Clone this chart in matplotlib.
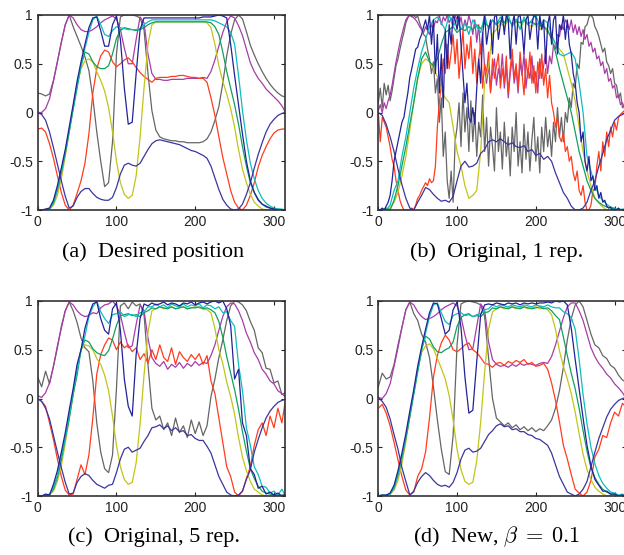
import numpy as np
import matplotlib
matplotlib.use("Agg")
import matplotlib.pyplot as plt

plt.rcParams['font.family'] = 'Liberation Sans'
plt.rcParams['mathtext.fontset'] = 'cm'
plt.rcParams['axes.unicode_minus'] = False

# sample positions (time steps) and values, in hundredths
t = list(range(0, 315, 5)) + [314]
t_fine = [i * 2.5 for i in range(126)] + [314]   # for the noisiest traces of (b)

#%% (a) desired position
grey_a = [20, 19, 17, 19, 33, 52, 72, 90,
          100, 88, 78, 68, 57, 43, 15, -20,
          -50, -76, -72, -30, 60, 98, 100, 100,
          100, 99, 97, 85, 40, 2, -18, -25,
          -27, -28, -29, -29, -30, -30, -31, -31,
          -31, -31, -30, -27, -20, -8, 6, 30,
          58, 80, 95, 100, 96, 83, 69, 59,
          50, 42, 35, 29, 24, 20, 17, 16]
magenta_a = [0, 0, 4, 14, 32, 52, 72, 90,
             100, 97, 90, 85, 83, 83, 85, 88,
             92, 95, 97, 99, 96, 85, 66, 50,
             50, 75, 98, 92, 60, 40, 34, 34,
             33, 33, 34, 34, 34, 34, 35, 35,
             35, 35, 36, 35, 42, 54, 68, 82,
             93, 99, 97, 89, 79, 65, 51, 42,
             35, 30, 24, 20, 16, 12, 7, 1]
navy1_a = [0, -2, -8, -20, -36, -53, -70, -86,
           -98, -96, -87, -81, -78, -78, -83, -87,
           -89, -90, -90, -87, -77, -63, -54, -52,
           -54, -55, -52, -45, -38, -32, -29, -28,
           -29, -30, -31, -32, -33, -35, -37, -39,
           -40, -42, -44, -47, -55, -67, -79, -89,
           -95, -99, -100, -99, -94, -84, -72, -57,
           -43, -31, -20, -12, -7, -3, -1, 0]
navy2_a = [-100, -100, -99, -98, -90, -75, -57, -38,
           -15, 8, 32, 52, 70, 87, 97, 98,
           84, 68, 68, 90, 99, 75, 25, -12,
           -10, 40, 85, 97, 97, 97, 97, 97,
           97, 97, 97, 97, 97, 97, 97, 97,
           97, 97, 98, 98, 98, 99, 100, 99,
           97, 70, 38, 8, -22, -50, -70, -82,
           -90, -94, -96, -98, -99, -100, -100, -100]
cyan_a = [-100, -100, -100, -99, -92, -78, -60, -40,
          -18, 5, 28, 48, 66, 82, 95, 99,
          90, 80, 78, 84, 88, 87, 86, 85,
          85, 85, 86, 90, 93, 95, 95, 95,
          95, 95, 95, 95, 95, 95, 95, 95,
          95, 95, 95, 95, 95, 94, 92, 90,
          88, 82, 70, 38, 2, -28, -52, -68,
          -80, -88, -93, -96, -98, -99, -99, -100]
green_a = [-100, -100, -100, -99, -93, -80, -62, -42,
           -20, 3, 25, 48, 62, 60, 52, 47,
           45, 45, 48, 60, 76, 84, 87, 86,
           85, 84, 85, 87, 90, 92, 93, 93,
           93, 93, 93, 93, 93, 93, 93, 93,
           93, 93, 93, 93, 92, 88, 80, 62,
           42, 25, 8, -12, -35, -55, -72, -82,
           -89, -94, -97, -98, -99, -99, -100, -100]
yellow_a = [-100, -100, -100, -99, -95, -85, -68, -45,
            -20, 5, 28, 45, 53, 55, 52, 42,
            33, 22, 5, -20, -50, -72, -84, -88,
            -85, -65, -25, 25, 70, 90, 93, 93,
            93, 93, 93, 93, 93, 93, 93, 93,
            93, 93, 93, 92, 87, 70, 48, 32,
            19, 4, -15, -38, -58, -72, -84, -92,
            -96, -99, -100, -100, -100, -100, -100, -100]
red_a = [-17, -16, -20, -32, -47, -65, -82, -95,
         -100, -95, -83, -70, -52, -22, 20, 45,
         58, 64, 62, 52, 47, 50, 54, 56,
         52, 46, 41, 37, 34, 31, 35, 36,
         36, 36, 37, 37, 38, 38, 37, 36,
         36, 35, 35, 31, 15, -3, -25, -46,
         -63, -80, -92, -98, -100, -95, -85, -72,
         -56, -44, -35, -27, -21, -18, -17, -17]

#%% (b) original, 1 rep.  (grey, red, magenta, navy2 on the fine grid)
grey_b = [10, 25, 5, 30, 18, 28, 12, 22, 35, 48, 55, 65, 74, 82, 92, 97,
          100, 98, 100, 97, 99, 92, 86, 80, 78, 65, 55, 40, 52, 20, 35, -10,
          15, -45, -20, -70, -88, -60, -92, -30, -15, 10, -35, 20, -20, 5, -40, 12,
          -30, 0, -45, -10, -25, 18, -40, -5, -55, -15, -35, -60, 5, -40, -20, -58,
          -10, -45, -25, -65, -15, -40, 0, -55, -30, -62, -12, -48, -20, -60, -28, -5,
          -50, -25, -62, -15, -40, -5, -35, -18, -45, -10, -30, 5, -25, -5, -30, 0,
          -10, 15, 5, 30, 25, 50, 45, 72, 70, 88, 90, 98, 100, 97, 88, 84,
          78, 70, 62, 66, 52, 48, 40, 45, 30, 28, 15, 20, 5, 8, 2]
red_b = [0, -30, -5, -10, -15, -25, -35, -48, -55, -70, -80, -90, -96, -100, -100, -100,
         -100, -98, -100, -95, -88, -85, -80, -76, -72, -75, -68, -72, -70, -55, -15, 10,
         30, 55, 40, 70, 45, 62, 80, 50, 75, 35, 60, 85, 45, 70, 55, 78,
         40, 65, 30, 55, 70, 25, 50, 40, 62, 20, 55, 35, 48, 60, 25, 45,
         30, 58, 20, 45, 65, 35, 50, 25, 62, 40, 18, 55, 35, 62, 30, 48,
         20, 52, 35, 60, 28, 45, 15, 38, 10, 0, -15, -5, -25, -30, -20, -40,
         -35, -50, -45, -62, -70, -60, -80, -85, -75, -92, -100, -100, -95, -80, -78, -55,
         -40, -60, -30, -45, -20, -35, -15, -25, -10, -18, -5, -2, 0, 2, 0]
magenta_b = [2, 8, 0, 10, 4, 12, 18, 28, 40, 52, 62, 72, 80, 88, 95, 98,
             100, 99, 97, 95, 92, 88, 85, 82, 88, 84, 80, 90, 86, 94, 92, 100,
             90, 98, 94, 100, 92, 97, 88, 100, 95, 90, 98, 85, 95, 88, 100, 92,
             80, 95, 72, 90, 60, 82, 45, 30, 50, 22, 40, 55, 28, 45, 35, 60,
             25, 48, 15, 40, 55, 30, 45, 20, 52, 38, 60, 25, 45, 35, 58, 30,
             42, 20, 55, 35, 48, 62, 40, 58, 50, 70, 65, 80, 78, 90, 85, 95,
             92, 85, 95, 82, 90, 80, 88, 78, 85, 75, 80, 68, 72, 62, 66, 55,
             58, 48, 52, 40, 45, 32, 35, 25, 28, 15, 18, 8, 10, 4, 2]
navy2_b = [-100, -100, -98, -100, -96, -92, -85, -70, -50, -40, -30, -20, -10, -5, 8, 20,
           36, 45, 55, 65, 67, 75, 80, 88, 95, 85, 100, 70, 95, 40, 80, 20,
           60, 5, 85, 45, 90, 70, 100, 95, 85, 100, 70, 40, 10, 30, -5, -10,
           5, -12, 25, 55, 30, 80, 100, 70, 85, 95, 60, 98, 100, 75, 90, 100,
           80, 100, 95, 55, 90, 100, 70, 98, 100, 85, 60, 95, 100, 75, 90, 100,
           98, 65, 100, 85, 95, 50, 90, 100, 70, 95, 100, 60, 90, 85, 100, 75,
           95, 70, 60, 40, 30, 10, 0, -30, -20, -50, -60, -45, -70, -65, -80, -75,
           -88, -82, -92, -90, -96, -98, -97, -100, -99, -100, -98, -100, -100, -99, -100]
navy1_b = [0, -3, -12, -25, -40, -58, -74, -88,
           -98, -100, -92, -85, -77, -79, -84, -88,
           -91, -90, -92, -86, -70, -55, -50, -56,
           -55, -52, -42, -38, -30, -28, -30, -27,
           -30, -33, -31, -35, -36, -34, -40, -38,
           -44, -42, -48, -45, -50, -62, -72, -82,
           -88, -96, -100, -100, -98, -92, -80, -70,
           -55, -42, -28, -18, -8, -4, -2, 0]
cyan_b = [-100, -99, -100, -95, -80, -70, -45, -25,
          0, 25, 45, 62, 75, 88, 95, 98,
          92, 85, 100, 88, 95, 85, 92, 80,
          95, 88, 82, 100, 85, 95, 90, 98,
          92, 100, 88, 96, 85, 98, 90, 95,
          100, 88, 95, 92, 80, 70, 60, 58,
          60, 62, 55, 30, 0, -45, -60, -75,
          -85, -90, -94, -97, -98, -100, -99, -100]
green_b = [-100, -100, -98, -100, -90, -75, -55, -35,
           -12, 10, 35, 55, 62, 52, 48, 55,
           70, 82, 85, 88, 82, 86, 84, 88,
           85, 90, 86, 92, 88, 95, 90, 94,
           92, 96, 90, 94, 92, 95, 91, 93,
           90, 92, 88, 85, 75, 62, 45, 30,
           15, 0, -20, -40, -55, -70, -80, -88,
           -92, -95, -97, -98, -99, -100, -100, -100]
yellow_b = [-100, -100, -100, -98, -92, -82, -65, -45,
            -18, 10, 35, 50, 55, 52, 45, 37,
            23, 15, 10, -15, -40, -55, -75, -88,
            -85, -80, -40, 30, 47, 81, 85, 92,
            88, 95, 90, 93, 86, 94, 90, 88,
            92, 85, 88, 82, 78, 70, 65, 60,
            45, 30, 12, -15, -40, -60, -75, -88,
            -93, -97, -100, -100, -100, -100, -100, -100]

#%% (c) original, 5 rep.
grey_c = [22, 12, 28, 15, 33, 52, 74, 90,
          99, 90, 78, 62, 52, 48, 18, -25,
          -55, -72, -76, -58, 10, 95, 98, 92,
          99, 95, 97, 86, 35, -10, -22, -18,
          -32, -25, -38, -20, -35, -28, -40, -22,
          -36, -24, -38, -28, 2, 20, 42, 60,
          80, 95, 100, 99, 96, 90, 79, 70,
          52, 47, 31, 30, 16, 18, 4, 6]
magenta_c = [3, 1, 6, 16, 33, 54, 72, 90,
             99, 96, 90, 86, 84, 85, 88, 87,
             93, 96, 97, 100, 95, 86, 68, 52,
             54, 76, 96, 90, 62, 42, 36, 33,
             38, 30, 35, 32, 37, 31, 36, 33,
             38, 34, 37, 36, 44, 55, 70, 84,
             94, 98, 97, 90, 80, 67, 58, 47,
             40, 30, 25, 18, 15, 8, 5, 2]
navy1_c = [0, -3, -10, -21, -38, -55, -71, -86,
           -98, -97, -86, -80, -77, -79, -84, -88,
           -90, -92, -89, -88, -76, -62, -52, -50,
           -55, -53, -51, -44, -38, -30, -29, -27,
           -31, -28, -33, -30, -34, -33, -38, -37,
           -41, -43, -43, -49, -56, -68, -80, -88,
           -96, -99, -100, -99, -95, -83, -73, -55,
           -42, -30, -20, -13, -8, -4, -2, -1]
navy2_c = [-100, -100, -98, -99, -88, -74, -55, -35,
           -12, 10, 35, 50, 72, 86, 97, 99,
           82, 70, 66, 92, 98, 70, 20, -8,
           -18, 45, 82, 97, 95, 98, 96, 97,
           99, 96, 98, 97, 95, 98, 97, 99,
           96, 98, 99, 97, 99, 100, 98, 100,
           92, 75, 20, 30, -25, -38, -72, -78,
           -92, -90, -98, -96, -99, -97, -100, -98]
cyan_c = [-100, -100, -99, -99, -91, -79, -58, -40,
          -17, 7, 28, 50, 64, 84, 94, 100,
          89, 82, 77, 86, 87, 89, 84, 86,
          86, 84, 88, 89, 94, 94, 97, 94,
          96, 93, 97, 95, 94, 97, 94, 96,
          95, 97, 93, 96, 95, 92, 94, 88,
          89, 80, 74, 35, 8, -30, -48, -70,
          -78, -90, -91, -97, -95, -99, -93, -99]
green_c = [-100, -100, -100, -98, -93, -81, -63, -41,
           -21, 4, 24, 50, 60, 58, 51, 47,
           45, 44, 49, 61, 75, 85, 86, 87,
           85, 86, 84, 88, 90, 93, 92, 94,
           93, 92, 94, 92, 93, 94, 92, 93,
           93, 94, 92, 93, 91, 88, 79, 63,
           43, 26, 9, -11, -34, -54, -72, -82,
           -90, -95, -97, -98, -99, -100, -99, -100]
yellow_c = [-100, -100, -100, -99, -95, -85, -69, -46,
            -21, 4, 29, 50, 55, 54, 50, 41,
            35, 24, 8, -18, -48, -70, -83, -88,
            -86, -66, -26, 24, 68, 90, 92, 94,
            92, 93, 94, 92, 93, 94, 92, 93,
            94, 93, 92, 91, 88, 72, 50, 36,
            17, 2, -16, -40, -60, -74, -85, -93,
            -96, -99, -100, -100, -100, -99, -100, -100]
red_c = [0, -3, -8, -25, -42, -62, -80, -94,
         -99, -98, -83, -68, -78, -58, -20, 25,
         45, 55, 62, 60, 50, 58, 52, 55,
         48, 52, 40, 46, 36, 50, 40, 55,
         42, 38, 52, 35, 48, 42, 38, 45,
         40, 46, 35, 44, 18, 5, -20, -45,
         -70, -80, -96, -100, -95, -82, -70, -48,
         -32, -25, -38, -18, -30, -10, -25, -5]

#%% (d) new, beta = 0.1
grey_d = [12, 26, 20, 22, 35, 55, 73, 91,
          99, 87, 80, 66, 58, 42, 12, -22,
          -52, -75, -78, -38, 55, 97, 99, 100,
          99, 98, 96, 84, 42, 0, -20, -24,
          -28, -25, -30, -27, -32, -29, -33, -30,
          -34, -31, -33, -28, -22, -10, 8, 32,
          60, 82, 96, 100, 94, 80, 66, 55,
          52, 44, 41, 34, 31, 24, 19, 17]
magenta_d = [1, 0, 5, 15, 33, 52, 73, 91,
             99, 96, 89, 84, 81, 82, 84, 87,
             91, 94, 96, 98, 95, 84, 65, 50,
             51, 74, 97, 91, 58, 40, 35, 33,
             34, 32, 35, 33, 36, 34, 36, 35,
             34, 36, 37, 36, 43, 55, 69, 83,
             94, 98, 98, 90, 80, 66, 52, 43,
             36, 31, 25, 21, 15, 11, 6, 1]
navy1_d = [1, -3, -9, -21, -37, -52, -71, -85,
           -99, -95, -86, -80, -76, -79, -84, -88,
           -90, -89, -91, -86, -76, -62, -53, -51,
           -55, -54, -51, -44, -37, -33, -28, -26,
           -29, -28, -32, -31, -34, -34, -37, -38,
           -41, -42, -45, -48, -56, -68, -80, -88,
           -96, -98, -100, -98, -93, -85, -70, -55,
           -41, -30, -19, -11, -6, -2, 0, 1]
navy2_d = [-100, -99, -99, -97, -89, -74, -56, -36,
           -13, 9, 33, 53, 71, 88, 98, 97,
           82, 66, 70, 91, 99, 73, 22, -15,
           -12, 38, 86, 96, 97, 96, 98, 97,
           96, 98, 97, 98, 96, 98, 97, 98,
           97, 98, 98, 99, 98, 100, 99, 100,
           96, 72, 40, 10, -20, -48, -69, -83,
           -89, -95, -95, -98, -98, -100, -99, -100]
cyan_d = [-100, -99, -100, -98, -91, -77, -59, -39,
          -16, 6, 30, 50, 67, 84, 96, 98,
          88, 79, 76, 85, 87, 88, 85, 86,
          84, 86, 87, 91, 92, 96, 94, 96,
          95, 94, 96, 95, 94, 96, 95, 94,
          96, 95, 94, 96, 94, 93, 93, 89,
          87, 83, 71, 40, 4, -26, -50, -67,
          -79, -87, -92, -96, -97, -99, -98, -100]
green_d = [-100, -100, -99, -98, -92, -79, -61, -41,
           -19, 4, 27, 50, 64, 61, 53, 48,
           47, 50, 52, 58, 74, 83, 86, 87,
           84, 85, 84, 88, 89, 93, 92, 94,
           93, 92, 94, 93, 92, 94, 93, 92,
           93, 94, 92, 93, 90, 85, 81, 63,
           44, 26, 10, -10, -33, -54, -71, -81,
           -88, -93, -96, -98, -98, -100, -99, -100]
yellow_d = [-100, -99, -100, -98, -94, -84, -67, -44,
            -19, 6, 30, 47, 54, 56, 51, 41,
            31, 20, 3, -22, -52, -73, -85, -88,
            -86, -64, -24, 27, 71, 89, 92, 94,
            92, 93, 94, 92, 93, 94, 92, 93,
            94, 92, 93, 91, 86, 71, 49, 33,
            20, 5, -14, -36, -57, -73, -83, -91,
            -95, -98, -100, -99, -100, -100, -99, -100]
red_d = [-10, -6, -15, -28, -45, -63, -80, -94,
         -99, -96, -80, -72, -55, -20, 22, 44,
         57, 65, 60, 50, 48, 51, 55, 57,
         50, 47, 42, 36, 35, 32, 36, 37,
         34, 38, 36, 39, 37, 40, 35, 37,
         33, 34, 36, 30, 16, -2, -24, -48,
         -62, -78, -93, -97, -100, -96, -84, -60,
         -52, -38, -40, -25, -14, -18, -5, -8]

line_colors = ['#666666', '#a83ca8', '#ff3c1e', '#c2c41a',
               '#10a060', '#10bcbc', '#3a36a0', '#222299']

panels = [
    ('(a)  Desired position',
     [(t, grey_a), (t, magenta_a), (t, red_a), (t, yellow_a),
      (t, green_a), (t, cyan_a), (t, navy1_a), (t, navy2_a)]),
    ('(b)  Original, 1 rep.',
     [(t_fine, grey_b), (t_fine, magenta_b), (t_fine, red_b), (t, yellow_b),
      (t, green_b), (t, cyan_b), (t, navy1_b), (t_fine, navy2_b)]),
    ('(c)  Original, 5 rep.',
     [(t, grey_c), (t, magenta_c), (t, red_c), (t, yellow_c),
      (t, green_c), (t, cyan_c), (t, navy1_c), (t, navy2_c)]),
    ('(d)  New, $\\beta\\;=\\;0.1$',
     [(t, grey_d), (t, magenta_d), (t, red_d), (t, yellow_d),
      (t, green_d), (t, cyan_d), (t, navy1_d), (t, navy2_d)]),
]

# pixel layout of the four axes (left, top) and caption centres
corners = [(37.7, 15), (378.3, 15), (37.7, 301), (378.3, 301)]
caps = [(153, 252), (497, 252), (154, 537), (497, 537)]
W, H = 247.3, 195
FW, FH = 624, 555

fig = plt.figure(figsize=(FW / 100, FH / 100), dpi=100)
for (cap, series), (x0, y0), (cx, cy) in zip(panels, corners, caps):
    ax = fig.add_axes([x0 / FW, 1 - (y0 + H) / FH, W / FW, H / FH])
    for (xs, ys), c in zip(series, line_colors):
        ax.plot(xs, np.array(ys) / 100.0, color=c, lw=0.9)
    ax.set_xlim(0, 314)
    ax.set_ylim(-1, 1)
    ax.set_xticks([0, 100, 200, 300])
    ax.set_yticks([-1, -0.5, 0, 0.5, 1])
    ax.set_yticklabels(['-1', '-0.5', '0', '0.5', '1'])
    ax.tick_params(direction='in', top=True, right=True, length=3, width=0.8,
                   labelsize=10, pad=3.5, colors='#222222')
    for s in ax.spines.values():
        s.set_linewidth(1.2)
        s.set_color('#333333')
    fig.text(cx / FW, 1 - cy / FH, cap, ha='center', va='center',
             family='Liberation Serif', fontsize=16)

fig.savefig('out.png', dpi=100)
